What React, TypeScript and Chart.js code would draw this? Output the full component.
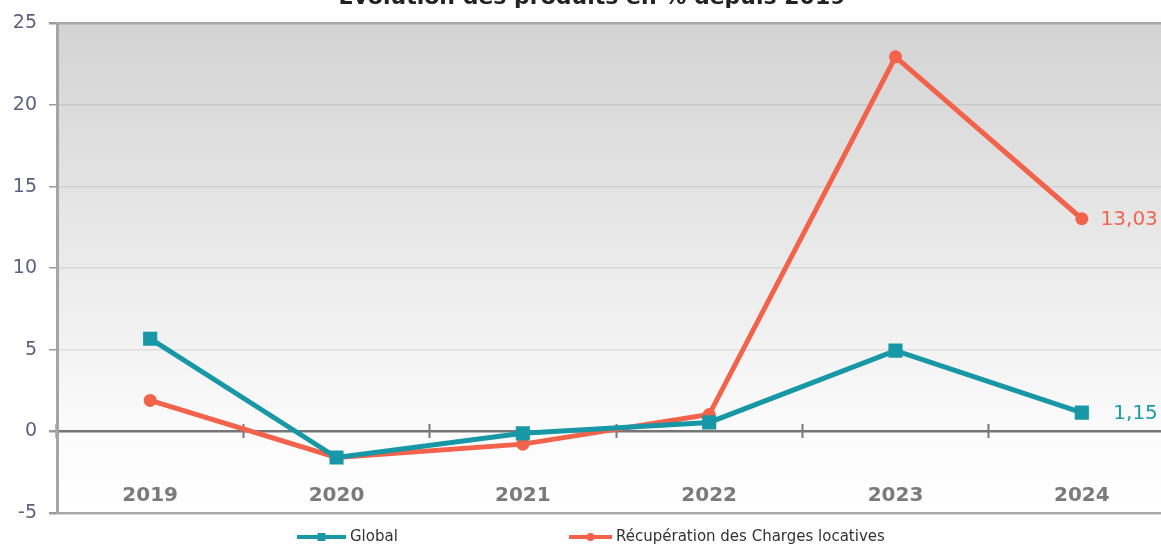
import React, { useEffect, useRef } from "react";
import { Chart, registerables } from "chart.js";

Chart.register(...registerables);

const title = "Evolution des produits en % depuis 2019";
const years = ["2019", "2020", "2021", "2022", "2023", "2024"];
const globalValues = [5.68, -1.6, -0.12, 0.55, 4.95, 1.15];
const chargesValues = [1.9, -1.6, -0.78, 1.03, 22.95, 13.03];
const seriesNames = ["Global", "Récupération des Charges locatives"];
const yMin = -5;
const yMax = 25;
const yStep = 5;

const TEAL = "#1898a6";
const CORAL = "#f3624b";

const fmt = (v: number) => v.toFixed(2).replace(".", ",");

// Plot background: grey at the top fading to white around zero.
const backgroundPlugin = {
  id: "plotBackground",
  beforeDraw(chart: any) {
    const { ctx, chartArea } = chart;
    const y0 = chart.scales.y.getPixelForValue(0);
    const g = ctx.createLinearGradient(0, chartArea.top, 0, chartArea.bottom);
    const zeroStop = (y0 - chartArea.top) / (chartArea.bottom - chartArea.top);
    g.addColorStop(0, "#d3d3d3");
    g.addColorStop(zeroStop, "#fbfbfb");
    g.addColorStop(1, "#ffffff");
    ctx.save();
    ctx.fillStyle = g;
    ctx.fillRect(chartArea.left, chartArea.top, chartArea.right - chartArea.left, chartArea.bottom - chartArea.top);
    ctx.restore();
  },
};

// Title, value of the last point of each series, and the line+marker legend.
const decorPlugin = {
  id: "decor",
  afterDraw(chart: any) {
    const { ctx } = chart;
    ctx.save();
    ctx.fillStyle = "#222";
    ctx.font = "bold 22px 'DejaVu Sans'";
    ctx.textAlign = "center";
    ctx.textBaseline = "alphabetic";
    ctx.fillText(title, 592, 4);

    // end-of-line value labels
    ctx.font = "20px 'DejaVu Sans'";
    ctx.textAlign = "right";
    ctx.textBaseline = "middle";
    chart.data.datasets.forEach((ds: any, i: number) => {
      const meta = chart.getDatasetMeta(i);
      const last = meta.data[meta.data.length - 1];
      const v = ds.data[ds.data.length - 1];
      ctx.fillStyle = ds.labelColor;
      ctx.fillText(fmt(v), last.x + 76, last.y + 1);
    });

    // legend
    const legendY = 537;
    const items = [
      { x: 297, textX: 350 },
      { x: 569, textX: 616 },
    ];
    ctx.font = "15px 'DejaVu Sans'";
    ctx.textAlign = "left";
    ctx.textBaseline = "middle";
    chart.data.datasets.forEach((ds: any, i: number) => {
      const it = items[i];
      const w = it.textX - it.x - 4;
      ctx.strokeStyle = ds.borderColor;
      ctx.lineWidth = 4;
      ctx.beginPath();
      ctx.moveTo(it.x, legendY);
      ctx.lineTo(it.x + w, legendY);
      ctx.stroke();
      ctx.fillStyle = ds.borderColor;
      const cx = it.x + w / 2;
      if (ds.pointStyle === "rect") {
        ctx.fillRect(cx - 4, legendY - 4, 8, 8);
      } else {
        ctx.beginPath();
        ctx.arc(cx, legendY, 4, 0, Math.PI * 2);
        ctx.fill();
      }
      ctx.fillStyle = "#333";
      ctx.fillText(ds.label, it.textX, legendY);
    });
    ctx.restore();
  },
};

export default function App() {
  const ref = useRef<HTMLCanvasElement | null>(null);

  useEffect(() => {
    if (!ref.current) return;
    const chart = new Chart(ref.current, {
      type: "line",
      data: {
        labels: years,
        datasets: [
          {
            label: seriesNames[0],
            data: globalValues,
            borderColor: TEAL,
            backgroundColor: TEAL,
            labelColor: "#1f9aa6",
            borderWidth: 5,
            pointStyle: "rect",
            pointRadius: 10,
            pointBorderWidth: 0,
            tension: 0,
          } as any,
          {
            label: seriesNames[1],
            data: chargesValues,
            borderColor: CORAL,
            backgroundColor: CORAL,
            labelColor: "#ef6552",
            borderWidth: 5,
            pointStyle: "circle",
            pointRadius: 6.5,
            pointBorderWidth: 0,
            tension: 0,
          } as any,
        ],
      },
      options: {
        responsive: false,
        animation: false,
        layout: { padding: { top: 22, left: 0, right: 2, bottom: 33 } },
        plugins: {
          legend: { display: false },
          title: { display: false },
          tooltip: { enabled: false },
        },
        scales: {
          x: {
            position: { y: 0.43 } as any,
            offset: true,
            grid: {
              offset: true,
              drawOnChartArea: false,
              drawTicks: true,
              tickLength: 14,
              tickColor: "#777",
              tickWidth: 2,
            } as any,
            border: { display: false },
            ticks: {
              padding: 45,
              color: "#7a7a7a",
              font: { family: "'DejaVu Sans'", size: 20, weight: "bold" },
            },
          },
          y: {
            min: yMin,
            max: yMax,
            afterFit: (scale: any) => {
              scale.width = 57;
            },
            ticks: {
              stepSize: yStep,
              padding: 12,
              color: "#5e5e80",
              font: { family: "'DejaVu Sans'", size: 19 },
            },
            grid: {
              drawTicks: true,
              tickLength: 8,
              tickColor: "#9a9a9a",
              color: (c: any) => {
                const v = c.tick && c.tick.value;
                if (v === 0) return "#767676";
                if (v === yMax || v === yMin) return "#a9a9a9";
                return "rgba(0,0,0,0.08)";
              },
              lineWidth: (c: any) => {
                const v = c.tick && c.tick.value;
                if (v === 0) return 2.5;
                if (v === yMax || v === yMin) return 2.5;
                return 1.5;
              },
            },
            border: { color: "#a5a5a5", width: 3 },
          },
        },
      },
      plugins: [backgroundPlugin, decorPlugin],
    });
    return () => chart.destroy();
  }, []);

  return (
    <div
      style={{
        position: "fixed",
        top: 0,
        left: 0,
        width: 1161,
        height: 546,
        overflow: "hidden",
        background: "#fff",
      }}
    >
      <canvas ref={ref} width={1185} height={546} style={{ display: "block", width: 1185, height: 546 }} />
    </div>
  );
}
